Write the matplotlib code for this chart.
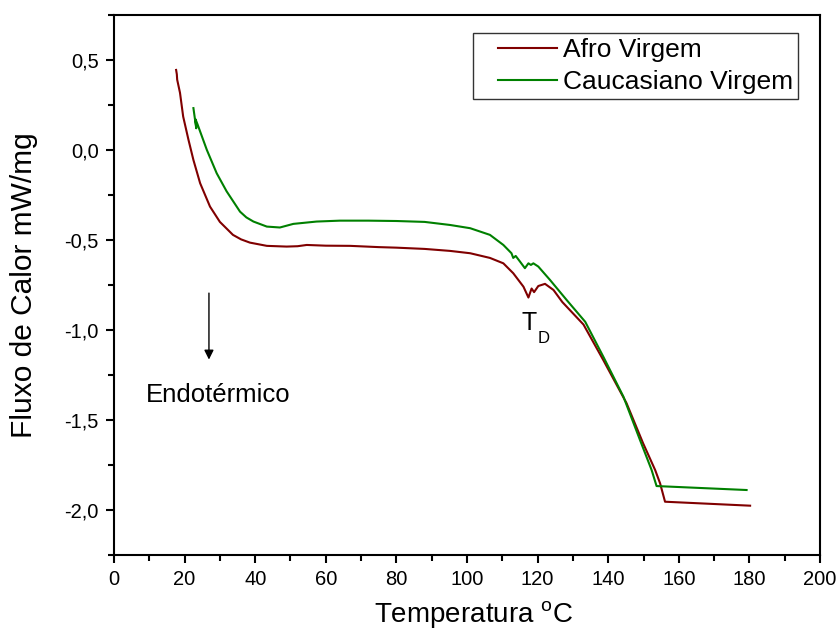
"""DSC curves for virgin hair samples (Afro vs Caucasiano)."""
import matplotlib
matplotlib.use("Agg")
import matplotlib.pyplot as plt
from matplotlib.lines import Line2D
from matplotlib.legend_handler import HandlerBase
from matplotlib.ticker import MultipleLocator, FuncFormatter

plt.rcParams['font.family'] = ['Liberation Sans', 'DejaVu Sans']
plt.rcParams['mathtext.default'] = 'regular'

# data
afro_t = [17.6, 17.8, 17.9, 18.7, 19.6, 21.1, 22.5, 24.4, 27.2, 30.0, 33.7,
          36.0, 38.5, 43.3, 48.9, 52.0, 54.6, 60.0, 66.9, 75.0, 80.0, 88.0,
          95.2, 100.9, 106.5, 110.3, 113.1, 116.0, 117.4, 118.3, 119.0,
          120.2, 122.1, 124.5, 127.0, 133.0, 138.6, 145.2, 149.9, 153.3,
          154.7, 156.1, 180.2]
afro_v = [0.444, 0.42, 0.39, 0.317, 0.185, 0.056, -0.056, -0.185, -0.315,
          -0.40, -0.472, -0.497, -0.515, -0.533, -0.537, -0.535, -0.528,
          -0.532, -0.533, -0.54, -0.543, -0.55, -0.561, -0.574, -0.60, -0.63,
          -0.685, -0.76, -0.82, -0.77, -0.79, -0.756, -0.744, -0.778, -0.845,
          -0.97, -1.167, -1.407, -1.63, -1.778, -1.852, -1.954, -1.976]

cauc_t = [22.5, 23.3, 23.1, 23.7, 26.3, 29.1, 31.9, 35.7, 37.5, 39.5, 43.3,
          47.0, 50.8, 57.4, 64.0, 72.0, 80.0, 88.0, 95.2, 100.9, 106.5,
          110.3, 112.6, 113.1, 113.8, 115.0, 116.4, 117.4, 118.1, 118.8,
          120.2, 123.5, 128.2, 133.5, 138.6, 144.3, 149.0, 152.3, 153.7,
          179.2]
cauc_v = [0.232, 0.12, 0.17, 0.14, 0.0, -0.13, -0.23, -0.343, -0.375,
          -0.398, -0.426, -0.431, -0.411, -0.398, -0.393, -0.393, -0.395,
          -0.40, -0.417, -0.435, -0.472, -0.528, -0.574, -0.60, -0.589,
          -0.62, -0.657, -0.63, -0.639, -0.63, -0.648, -0.722, -0.833,
          -0.955, -1.148, -1.37, -1.611, -1.778, -1.867, -1.889]


class PadLine(HandlerBase):
    # legend line with blank room on its left, like the Origin legend
    def create_artists(self, legend, orig, xd, yd, width, height, fontsize, trans):
        y = height / 2 - yd
        ln = Line2D([0.25 * width - xd, width - xd], [y, y],
                    color=orig.get_color(), lw=orig.get_linewidth())
        ln.set_transform(trans)
        return [ln]


fig = plt.figure(figsize=(8.4, 6.37), dpi=100)
ax = fig.add_axes([0.1357, 0.1287, 0.8405, 0.848])

l1, = ax.plot(afro_t, afro_v, color='#800000', lw=1.5, label='Afro Virgem')
l2, = ax.plot(cauc_t, cauc_v, color='#008000', lw=1.5, label='Caucasiano Virgem')

ax.set_xlim(0, 200)
ax.set_ylim(-2.25, 0.75)

# axis ticks, outward like Origin
ax.xaxis.set_major_locator(MultipleLocator(20))
ax.xaxis.set_minor_locator(MultipleLocator(10))
ax.yaxis.set_major_locator(MultipleLocator(0.5))
ax.yaxis.set_minor_locator(MultipleLocator(0.25))
ax.yaxis.set_major_formatter(FuncFormatter(lambda v, p: f"{v:.1f}".replace('.', ',')))
ax.tick_params(which='major', direction='out', length=6, width=1.5,
               labelsize=14.5, pad=5)
ax.tick_params(which='minor', direction='out', length=4, width=1.5)
ax.tick_params(top=False, right=False)
for s in ax.spines.values():
    s.set_linewidth(1.5)

ax.set_ylabel('Fluxo de Calor mW/mg', fontsize=21.5)
ax.yaxis.set_label_coords(-0.108, 0.5)
ax.set_xlabel('Temperatura $^{o}$C', fontsize=20)
ax.xaxis.set_label_coords(0.51, -0.082)

# annotations
ax.annotate('', xy=(26.9, -1.18), xytext=(26.9, -0.78),
            arrowprops=dict(arrowstyle='-|>', color='black', lw=1.0,
                            mutation_scale=14))
ax.text(9.0, -1.36, 'Endotérmico', fontsize=18.5, va='center', ha='left')
ax.text(115.4, -0.96, 'T', fontsize=18, va='center', ha='left')
ax.text(120.0, -1.05, 'D', fontsize=12, va='center', ha='left')

leg = ax.legend(handles=[l1, l2], loc='upper right',
                bbox_to_anchor=(0.969, 0.967), borderaxespad=0, fontsize=19,
                fancybox=False, framealpha=1, edgecolor='#333333',
                handlelength=3.0, handletextpad=0.2, borderpad=0.2,
                labelspacing=0.3, handler_map={Line2D: PadLine()})
leg.get_frame().set_linewidth(1.0)

fig.savefig('out.png', dpi=100)
